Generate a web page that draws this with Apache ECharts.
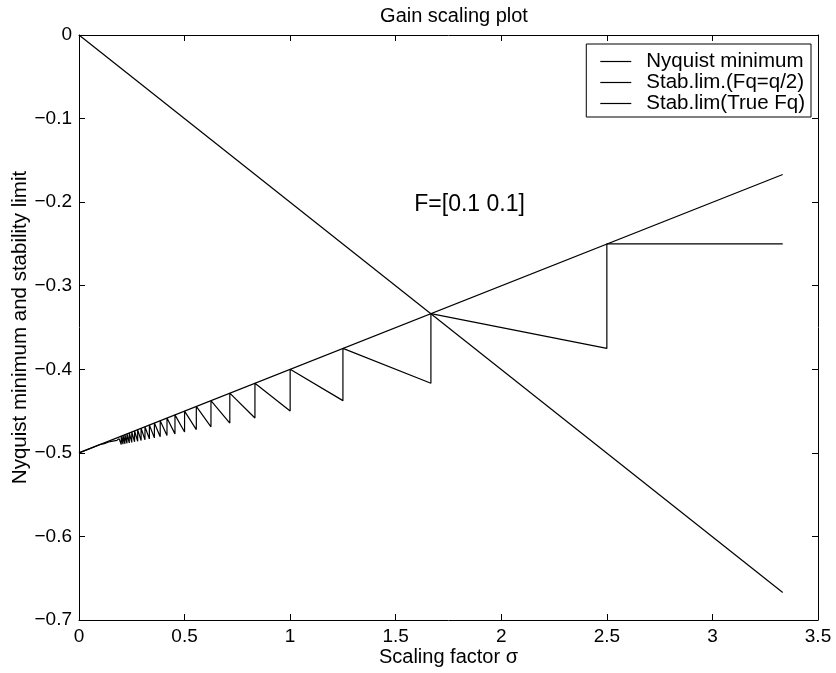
<!DOCTYPE html>
<html>
<head>
<meta charset="utf-8">
<title>Gain scaling plot</title>
<script src="https://cdn.jsdelivr.net/npm/echarts@6/dist/echarts.min.js"></script>
<style>
  html, body { margin: 0; padding: 0; background: #fff; }
  #chart { width: 836px; height: 673px; }
</style>
</head>
<body>
<div id="chart"></div>
<script>
// values
var nyquistX = [0, 3.333]
var nyquistY = [0, -0.667]

var halfQX = [0, 3.333]
var halfQY = [-0.5, -0.167]

var trueX = [0, 0.1, 0.12, 0.14, 0.16, 0.18, 0.19, 0.2, 0.2, 0.2083, 0.2083, 0.2174, 0.2174, 0.2273, 0.2273,
  0.2381, 0.2381, 0.25, 0.25, 0.2632, 0.2632, 0.2778, 0.2778, 0.2941, 0.2941, 0.3125, 0.3125,
  0.3333, 0.3333, 0.3571, 0.3571, 0.3846, 0.3846, 0.4167, 0.4167, 0.4545, 0.4545, 0.5, 0.5,
  0.5556, 0.5556, 0.625, 0.625, 0.7143, 0.7143, 0.8333, 0.8333, 1.0, 1.0, 1.25, 1.25,
  1.6667, 1.6667, 2.5, 2.5, 3.333]
var trueY = [-0.5, -0.49, -0.489, -0.487, -0.486, -0.485, -0.483, -0.49, -0.48, -0.4896, -0.4792, -0.4891, -0.4783, -0.4886, -0.4773,
  -0.4881, -0.4762, -0.4875, -0.475, -0.4868, -0.4737, -0.4861, -0.4722, -0.4853, -0.4706, -0.4844, -0.4688,
  -0.4833, -0.4667, -0.4821, -0.4643, -0.4808, -0.4615, -0.4792, -0.4583, -0.4773, -0.4545, -0.475, -0.45,
  -0.4722, -0.4444, -0.4688, -0.4375, -0.4643, -0.4286, -0.4583, -0.4167, -0.45, -0.4, -0.4375, -0.375,
  -0.4167, -0.3333, -0.375, -0.25, -0.25]

var seriesNames = ['Nyquist minimum', 'Stab.lim.(Fq=q/2)', 'Stab.lim(True Fq)']
var noteText = 'F=[0.1 0.1]'
var notePos = [1.85, -0.203]

function pairs(xs, ys) {
  return xs.map(function (x, i) { return [x, ys[i]] })
}

function minus(v) {
  return String(v).replace('-', '\u2212')
}

var font = 'Liberation Sans, Arial, Helvetica, sans-serif'
var chart = echarts.init(document.getElementById('chart'), null, { renderer: 'canvas' })

function axisLine() {
  return { show: true, onZero: false, lineStyle: { color: '#000', width: 1 } }
}

function tickIn() {
  return { show: true, inside: true, length: 6, lineStyle: { color: '#000', width: 1 } }
}

function lineSeries(name, data) {
  return {
    name: name,
    type: 'line',
    data: data,
    symbol: 'none',
    showSymbol: false,
    animation: false,
    lineStyle: { color: '#000', width: 1.2 },
    itemStyle: { color: '#000' }
  }
}

var option = {
  backgroundColor: '#fff',
  animation: false,
  title: {
    text: 'Gain scaling plot',
    left: 449,
    textAlign: 'center',
    top: 1,
    textStyle: { fontFamily: font, fontSize: 20, fontWeight: 'normal', color: '#000' }
  },
  grid: { left: 79, right: 18, top: 35, bottom: 53, containLabel: false, outerBoundsMode: 'none' },
  legend: {
    data: seriesNames,
    orient: 'vertical',
    right: 25,
    top: 44,
    padding: [7, 6, 3, 14],
    icon: 'rect',
    itemWidth: 31,
    itemHeight: 1.2,
    itemGap: 0,
    backgroundColor: '#fff',
    borderColor: '#000',
    borderWidth: 1,
    borderRadius: 0,
    itemStyle: { color: '#000' },
    textStyle: { fontFamily: font, fontSize: 20.5, lineHeight: 18.5, color: '#000', padding: [0, 0, 0, 10] }
  },
  xAxis: [{
    type: 'value',
    min: 0, max: 3.5, interval: 0.5,
    name: 'Scaling factor \u03c3',
    nameLocation: 'middle',
    nameGap: 27,
    nameMoveOverlap: false,
    nameTextStyle: { fontFamily: font, fontSize: 20, color: '#000' },
    axisLine: axisLine(),
    axisTick: tickIn(),
    splitLine: { show: false },
    axisLabel: { fontFamily: font, fontSize: 19, color: '#000', margin: 7, formatter: minus }
  }, {
    type: 'value', position: 'top',
    min: 0, max: 3.5, interval: 0.5,
    axisLine: axisLine(), axisTick: tickIn(),
    axisLabel: { show: false }, splitLine: { show: false }
  }],
  yAxis: [{
    type: 'value',
    min: -0.7, max: 0, interval: 0.1,
    name: 'Nyquist minimum and stability limit',
    nameLocation: 'middle',
    nameGap: 48,
    nameMoveOverlap: false,
    nameTextStyle: { fontFamily: font, fontSize: 20.5, color: '#000' },
    axisLine: axisLine(),
    axisTick: tickIn(),
    splitLine: { show: false },
    axisLabel: { fontFamily: font, fontSize: 19, color: '#000', margin: 7, formatter: minus }
  }, {
    type: 'value', position: 'right',
    min: -0.7, max: 0, interval: 0.1,
    axisLine: axisLine(), axisTick: tickIn(),
    axisLabel: { show: false }, splitLine: { show: false }
  }],
  series: [
    lineSeries(seriesNames[0], pairs(nyquistX, nyquistY)),
    lineSeries(seriesNames[1], pairs(halfQX, halfQY)),
    lineSeries(seriesNames[2], pairs(trueX, trueY)),
    {
      name: 'note',
      type: 'scatter',
      symbolSize: 0,
      silent: true,
      data: [notePos],
      itemStyle: { opacity: 1 },
      label: {
        show: true,
        position: 'inside',
        formatter: noteText,
        fontFamily: font,
        fontSize: 23,
        color: '#000',
        textBorderWidth: 0
      }
    }
  ]
}

chart.setOption(option)
</script>
</body>
</html>
